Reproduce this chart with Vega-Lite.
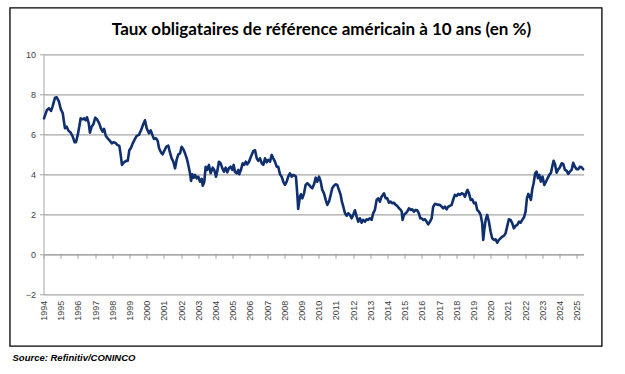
{
  "$schema": "https://vega.github.io/schema/vega-lite/v6.json",
  "width": 540,
  "height": 240,
  "autosize": {"type": "none"},
  "padding": {"left": 43.5, "top": 54.3, "right": 41.5, "bottom": 79.7},
  "background": "white",
  "title": {
    "text": "Taux obligataires de référence américain à 10 ans (en %)",
    "font": "Lato",
    "fontSize": 17,
    "fontWeight": "bold",
    "color": "#000000",
    "anchor": "middle",
    "frame": "group",
    "baseline": "bottom",
    "offset": -49,
    "dx": 8
  },
  "config": {
    "view": {"stroke": null},
    "axis": {"labelFont": "Liberation Sans", "labelColor": "#404040", "labelFontSize": 9}
  },
  "resolve": {"axis": {"x": "independent"}},
  "layer": [
    {
      "data": {"values": [{}]},
      "mark": {"type": "rect", "filled": false, "stroke": "#000000", "strokeWidth": 1.3, "clip": false},
      "encoding": {
        "x": {
          "datum": 1992.05,
          "type": "quantitative",
          "scale": {"domain": [1994, 2025.4], "nice": false, "zero": false},
          "axis": {
            "orient": "bottom",
            "offset": -40,
            "values": [1994,1995,1996,1997,1998,1999,2000,2001,2002,2003,2004,2005,2006,2007,2008,2009,2010,2011,2012,2013,2014,2015,2016,2017,2018,2019,2020,2021,2022,2023,2024,2025],
            "labels": false,
            "ticks": true,
            "tickSize": 4,
            "tickColor": "#a0a0a0",
            "domain": true,
            "domainColor": "#a0a0a0",
            "grid": false,
            "title": null
          }
        },
        "x2": {"datum": 2026.47},
        "y": {
          "datum": 12.32,
          "type": "quantitative",
          "scale": {"domain": [-2, 10], "nice": false, "zero": false},
          "axis": {
            "values": [-2, 0, 2, 4, 6, 8, 10],
            "grid": true,
            "gridColor": "#a6a6a6",
            "gridWidth": 1.2,
            "domain": true,
            "domainColor": "#a6a6a6",
            "tickColor": "#a6a6a6",
            "tickSize": 4,
            "labelPadding": 4,
            "title": null
          }
        },
        "y2": {"datum": -4.59}
      }
    },
    {
      "data": {"values": [
        {"t":1994.03,"v":6.8},{"t":1994.19,"v":7.2},{"t":1994.32,"v":7.3},{"t":1994.44,"v":7.17},{"t":1994.53,"v":7.4},{"t":1994.67,"v":7.83},{"t":1994.77,"v":7.85},{"t":1994.9,"v":7.63},
        {"t":1995.0,"v":7.27},{"t":1995.12,"v":7.05},{"t":1995.19,"v":6.63},{"t":1995.25,"v":6.3},{"t":1995.35,"v":6.38},{"t":1995.44,"v":6.2},{"t":1995.58,"v":6.08},{"t":1995.7,"v":5.88},{"t":1995.81,"v":5.6},{"t":1995.89,"v":5.6},{"t":1995.99,"v":5.97},
        {"t":1996.08,"v":6.38},{"t":1996.16,"v":6.8},{"t":1996.28,"v":6.75},{"t":1996.37,"v":6.8},{"t":1996.45,"v":6.7},{"t":1996.53,"v":6.85},{"t":1996.63,"v":6.55},{"t":1996.7,"v":6.08},{"t":1996.8,"v":6.38},{"t":1996.9,"v":6.5},
        {"t":1997.01,"v":6.83},{"t":1997.13,"v":6.72},{"t":1997.24,"v":6.55},{"t":1997.34,"v":6.3},{"t":1997.44,"v":6.13},{"t":1997.52,"v":6.27},{"t":1997.62,"v":5.93},{"t":1997.73,"v":5.8},{"t":1997.87,"v":5.67},{"t":1997.97,"v":5.55},
        {"t":1998.06,"v":5.6},{"t":1998.17,"v":5.58},{"t":1998.29,"v":5.47},{"t":1998.41,"v":5.42},{"t":1998.49,"v":4.97},{"t":1998.56,"v":4.47},{"t":1998.68,"v":4.6},{"t":1998.8,"v":4.67},{"t":1998.9,"v":4.67},{"t":1998.99,"v":5.2},
        {"t":1999.09,"v":5.33},{"t":1999.19,"v":5.55},{"t":1999.32,"v":5.77},{"t":1999.42,"v":5.92},{"t":1999.55,"v":5.97},{"t":1999.67,"v":6.2},{"t":1999.8,"v":6.5},{"t":1999.9,"v":6.7},
        {"t":2000.0,"v":6.3},{"t":2000.13,"v":6.05},{"t":2000.23,"v":6.2},{"t":2000.33,"v":5.97},{"t":2000.42,"v":5.77},{"t":2000.54,"v":5.8},{"t":2000.64,"v":5.67},{"t":2000.72,"v":5.3},{"t":2000.83,"v":5.1},{"t":2000.93,"v":5.0},
        {"t":2001.02,"v":5.17},{"t":2001.14,"v":5.38},{"t":2001.26,"v":5.43},{"t":2001.34,"v":5.13},{"t":2001.45,"v":4.8},{"t":2001.55,"v":4.63},{"t":2001.65,"v":4.3},{"t":2001.74,"v":4.72},{"t":2001.84,"v":5.0},{"t":2001.94,"v":5.05},
        {"t":2002.03,"v":5.38},{"t":2002.13,"v":5.25},{"t":2002.23,"v":5.05},{"t":2002.33,"v":4.8},{"t":2002.42,"v":4.47},{"t":2002.52,"v":4.05},{"t":2002.58,"v":3.67},{"t":2002.65,"v":4.0},{"t":2002.73,"v":3.83},{"t":2002.81,"v":3.97},{"t":2002.91,"v":3.8},
        {"t":2003.0,"v":3.88},{"t":2003.1,"v":3.63},{"t":2003.2,"v":3.77},{"t":2003.26,"v":3.43},{"t":2003.35,"v":3.63},{"t":2003.43,"v":4.38},{"t":2003.52,"v":4.22},{"t":2003.62,"v":4.47},{"t":2003.72,"v":4.05},{"t":2003.84,"v":4.33},{"t":2003.93,"v":4.22},
        {"t":2004.03,"v":3.88},{"t":2004.1,"v":4.13},{"t":2004.2,"v":4.63},{"t":2004.3,"v":4.55},{"t":2004.4,"v":4.3},{"t":2004.49,"v":4.13},{"t":2004.59,"v":4.33},{"t":2004.69,"v":4.1},{"t":2004.78,"v":4.3},{"t":2004.88,"v":4.38},{"t":2004.98,"v":4.22},
        {"t":2005.06,"v":4.47},{"t":2005.13,"v":4.13},{"t":2005.23,"v":4.05},{"t":2005.33,"v":4.22},{"t":2005.38,"v":4.0},{"t":2005.48,"v":4.22},{"t":2005.58,"v":4.55},{"t":2005.67,"v":4.47},{"t":2005.76,"v":4.63},{"t":2005.85,"v":4.5},{"t":2005.95,"v":4.63},
        {"t":2006.06,"v":4.88},{"t":2006.2,"v":5.17},{"t":2006.3,"v":5.2},{"t":2006.4,"v":4.8},{"t":2006.49,"v":4.67},{"t":2006.59,"v":4.8},{"t":2006.69,"v":4.55},{"t":2006.78,"v":4.47},{"t":2006.88,"v":4.8},{"t":2006.98,"v":4.6},
        {"t":2007.07,"v":4.72},{"t":2007.17,"v":4.63},{"t":2007.27,"v":4.97},{"t":2007.36,"v":4.8},{"t":2007.46,"v":4.63},{"t":2007.56,"v":4.38},{"t":2007.65,"v":4.38},{"t":2007.75,"v":4.0},{"t":2007.85,"v":3.88},{"t":2007.94,"v":3.63},
        {"t":2008.04,"v":3.47},{"t":2008.14,"v":3.63},{"t":2008.23,"v":3.88},{"t":2008.33,"v":4.05},{"t":2008.43,"v":3.88},{"t":2008.52,"v":3.97},{"t":2008.62,"v":3.93},{"t":2008.68,"v":3.88},{"t":2008.76,"v":2.97},{"t":2008.81,"v":2.27},{"t":2008.91,"v":2.88},{"t":2008.97,"v":3.0},
        {"t":2009.05,"v":2.8},{"t":2009.15,"v":3.05},{"t":2009.24,"v":3.47},{"t":2009.34,"v":3.55},{"t":2009.44,"v":3.47},{"t":2009.53,"v":3.38},{"t":2009.63,"v":3.3},{"t":2009.73,"v":3.5},{"t":2009.83,"v":3.83},{"t":2009.92,"v":3.63},
        {"t":2010.02,"v":3.88},{"t":2010.12,"v":3.63},{"t":2010.21,"v":3.22},{"t":2010.31,"v":3.05},{"t":2010.41,"v":2.72},{"t":2010.5,"v":2.47},{"t":2010.6,"v":2.63},{"t":2010.7,"v":2.97},{"t":2010.79,"v":3.3},{"t":2010.89,"v":3.43},{"t":2010.99,"v":3.5},
        {"t":2011.08,"v":3.47},{"t":2011.18,"v":3.22},{"t":2011.28,"v":2.97},{"t":2011.35,"v":2.63},{"t":2011.45,"v":2.33},{"t":2011.53,"v":2.05},{"t":2011.63,"v":1.93},{"t":2011.72,"v":2.05},{"t":2011.82,"v":1.97},{"t":2011.92,"v":1.8},
        {"t":2012.01,"v":1.97},{"t":2012.11,"v":2.2},{"t":2012.21,"v":1.88},{"t":2012.3,"v":1.63},{"t":2012.4,"v":1.8},{"t":2012.5,"v":1.58},{"t":2012.59,"v":1.72},{"t":2012.69,"v":1.63},{"t":2012.79,"v":1.75},{"t":2012.88,"v":1.72},{"t":2012.98,"v":1.8},
        {"t":2013.08,"v":1.72},{"t":2013.17,"v":2.05},{"t":2013.27,"v":2.22},{"t":2013.37,"v":2.72},{"t":2013.47,"v":2.8},{"t":2013.56,"v":2.63},{"t":2013.66,"v":2.88},{"t":2013.8,"v":3.05},{"t":2013.9,"v":2.8},{"t":2013.99,"v":2.8},
        {"t":2014.09,"v":2.58},{"t":2014.19,"v":2.63},{"t":2014.28,"v":2.55},{"t":2014.38,"v":2.58},{"t":2014.48,"v":2.47},{"t":2014.57,"v":2.42},{"t":2014.67,"v":2.3},{"t":2014.77,"v":2.22},{"t":2014.83,"v":2.13},{"t":2014.88,"v":1.72},{"t":2014.96,"v":1.97},
        {"t":2015.06,"v":2.05},{"t":2015.15,"v":2.13},{"t":2015.25,"v":2.3},{"t":2015.35,"v":2.22},{"t":2015.44,"v":2.25},{"t":2015.54,"v":2.13},{"t":2015.64,"v":2.22},{"t":2015.73,"v":2.2},{"t":2015.83,"v":2.05},{"t":2015.91,"v":1.8},{"t":2015.99,"v":1.8},
        {"t":2016.08,"v":1.72},{"t":2016.18,"v":1.75},{"t":2016.28,"v":1.63},{"t":2016.37,"v":1.5},{"t":2016.47,"v":1.63},{"t":2016.57,"v":1.8},{"t":2016.66,"v":2.38},{"t":2016.76,"v":2.52},{"t":2016.86,"v":2.5},{"t":2016.95,"v":2.47},
        {"t":2017.05,"v":2.47},{"t":2017.15,"v":2.38},{"t":2017.24,"v":2.3},{"t":2017.34,"v":2.38},{"t":2017.44,"v":2.25},{"t":2017.53,"v":2.38},{"t":2017.63,"v":2.42},{"t":2017.73,"v":2.47},{"t":2017.83,"v":2.75},{"t":2017.92,"v":2.97},
        {"t":2018.02,"v":2.92},{"t":2018.12,"v":3.02},{"t":2018.22,"v":2.97},{"t":2018.31,"v":3.05},{"t":2018.41,"v":3.02},{"t":2018.51,"v":2.88},{"t":2018.6,"v":3.13},{"t":2018.66,"v":3.22},{"t":2018.74,"v":3.05},{"t":2018.84,"v":2.72},{"t":2018.93,"v":2.75},
        {"t":2019.03,"v":2.55},{"t":2019.13,"v":2.58},{"t":2019.22,"v":2.22},{"t":2019.32,"v":2.13},{"t":2019.42,"v":1.97},{"t":2019.51,"v":1.55},{"t":2019.57,"v":0.72},{"t":2019.63,"v":1.22},{"t":2019.71,"v":1.72},{"t":2019.8,"v":1.97},{"t":2019.9,"v":1.63},
        {"t":2020.0,"v":1.13},{"t":2020.09,"v":0.8},{"t":2020.19,"v":0.72},{"t":2020.29,"v":0.75},{"t":2020.38,"v":0.58},{"t":2020.48,"v":0.72},{"t":2020.58,"v":0.8},{"t":2020.67,"v":0.88},{"t":2020.77,"v":0.92},{"t":2020.87,"v":1.05},{"t":2020.97,"v":1.42},
        {"t":2021.06,"v":1.75},{"t":2021.16,"v":1.72},{"t":2021.26,"v":1.55},{"t":2021.35,"v":1.3},{"t":2021.45,"v":1.42},{"t":2021.55,"v":1.47},{"t":2021.65,"v":1.63},{"t":2021.74,"v":1.58},{"t":2021.84,"v":1.72},{"t":2021.94,"v":1.85},
        {"t":2022.03,"v":2.13},{"t":2022.11,"v":2.8},{"t":2022.19,"v":3.02},{"t":2022.27,"v":2.92},{"t":2022.34,"v":2.72},{"t":2022.42,"v":3.25},{"t":2022.5,"v":3.55},{"t":2022.59,"v":4.05},{"t":2022.67,"v":4.13},{"t":2022.75,"v":3.8},{"t":2022.83,"v":3.97},{"t":2022.92,"v":3.63},
        {"t":2023.02,"v":3.88},{"t":2023.12,"v":3.47},{"t":2023.22,"v":3.63},{"t":2023.31,"v":3.8},{"t":2023.41,"v":3.97},{"t":2023.51,"v":4.08},{"t":2023.58,"v":4.38},{"t":2023.66,"v":4.68},{"t":2023.74,"v":4.52},{"t":2023.84,"v":4.08},{"t":2023.93,"v":4.25},
        {"t":2024.03,"v":4.35},{"t":2024.13,"v":4.55},{"t":2024.22,"v":4.52},{"t":2024.32,"v":4.22},{"t":2024.42,"v":4.18},{"t":2024.51,"v":4.02},{"t":2024.61,"v":4.13},{"t":2024.71,"v":4.22},{"t":2024.8,"v":4.58},{"t":2024.9,"v":4.38},
        {"t":2025.0,"v":4.25},{"t":2025.09,"v":4.25},{"t":2025.19,"v":4.38},{"t":2025.29,"v":4.35},{"t":2025.38,"v":4.25}
      ]},
      "mark": {"type": "line", "color": "#0f2f6e", "strokeWidth": 2.6, "strokeJoin": "round", "strokeCap": "round"},
      "encoding": {
        "x": {
          "field": "t",
          "type": "quantitative",
          "scale": {"domain": [1994, 2025.4], "nice": false, "zero": false},
          "axis": {
            "orient": "bottom",
            "values": [1994,1995,1996,1997,1998,1999,2000,2001,2002,2003,2004,2005,2006,2007,2008,2009,2010,2011,2012,2013,2014,2015,2016,2017,2018,2019,2020,2021,2022,2023,2024,2025],
            "format": "d",
            "labelAngle": -90,
            "labelPadding": 6,
            "labelFlush": false,
            "labelOverlap": false,
            "ticks": false,
            "domain": false,
            "grid": false,
            "title": "Source: Refinitiv/CONINCO",
            "titleFont": "Liberation Sans",
            "titleFontSize": 9.5,
            "titleFontStyle": "italic",
            "titleFontWeight": "bold",
            "titleColor": "#000000",
            "titleAlign": "left",
            "titleBaseline": "middle",
            "titleAnchor": "start",
            "titleX": -31.5,
            "titleY": 63
          }
        },
        "y": {
          "field": "v",
          "type": "quantitative",
          "scale": {"domain": [-2, 10], "nice": false, "zero": false},
          "axis": {
            "values": [-2, 0, 2, 4, 6, 8, 10],
            "grid": true,
            "gridColor": "#a6a6a6",
            "gridWidth": 1.2,
            "domain": true,
            "domainColor": "#a6a6a6",
            "tickColor": "#a6a6a6",
            "tickSize": 4,
            "labelPadding": 4,
            "title": null
          }
        }
      }
    }
  ]
}
